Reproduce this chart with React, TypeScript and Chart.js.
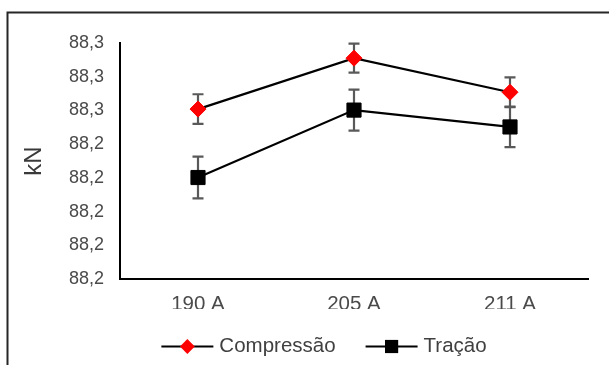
import React, { useEffect, useRef } from 'react';
import { Chart, registerables } from 'chart.js';

Chart.register(...registerables);

const categories = ['190 A', '205 A', '211 A'];
const seriesNames = ['Compressão', 'Tração'];
const compressao = [88.2504, 88.2655, 88.2554];
const compressaoErr = [0.0044, 0.0043, 0.0044];
const tracao = [88.2301, 88.2501, 88.2451];
const tracaoErr = [0.0062, 0.0061, 0.006];
const yTickLabels = ['88,2', '88,2', '88,2', '88,2', '88,2', '88,3', '88,3', '88,3'];
const yMin = 88.2;
const yMax = 88.27;
const yStep = 0.01;
const yTitle = 'kN';

const FONT = '"Liberation Sans", Arial, sans-serif';

const framePlugin = {
  id: 'frame',
  afterDraw(chart: any) {
    const ctx = chart.ctx;
    ctx.save();
    ctx.strokeStyle = '#262626';
    ctx.lineWidth = 2;
    ctx.beginPath();
    ctx.moveTo(7.5, 365);
    ctx.lineTo(7.5, 12.5);
    ctx.lineTo(609, 12.5);
    ctx.stroke();
    ctx.restore();
  },
};

const errorBarPlugin = {
  id: 'errorBars',
  beforeDatasetsDraw(chart: any) {
    const ctx = chart.ctx;
    const xs = chart.scales.x;
    const ys = chart.scales.y;
    ctx.save();
    ctx.strokeStyle = '#595959';
    ctx.lineWidth = 2.2;
    chart.data.datasets.forEach((ds: any) => {
      const errs: number[] = ds.errors || [];
      ds.data.forEach((v: number, i: number) => {
        const e = errs[i];
        if (e == null) return;
        const x = Math.round(xs.getPixelForValue(i));
        const yt = ys.getPixelForValue(v + e);
        const yb = ys.getPixelForValue(v - e);
        ctx.beginPath();
        ctx.moveTo(x, yt);
        ctx.lineTo(x, yb);
        ctx.moveTo(x - 5.5, yt);
        ctx.lineTo(x + 5.5, yt);
        ctx.moveTo(x - 5.5, yb);
        ctx.lineTo(x + 5.5, yb);
        ctx.stroke();
      });
    });
    ctx.restore();
  },
};

const legendPlugin = {
  id: 'lineLegend',
  afterDraw(chart: any) {
    const ctx = chart.ctx;
    ctx.save();
    ctx.font = '20.5px ' + FONT;
    const lineLen = 52;
    const gapText = 6;
    const gapItem = 30;
    const items = chart.data.datasets.map((ds: any) => ({ ds, w: ctx.measureText(ds.label).width }));
    const total =
      items.reduce((a: number, it: any) => a + lineLen + gapText + it.w, 0) + gapItem * (items.length - 1);
    let x = 324 - total / 2;
    const y = 346.5;
    items.forEach(({ ds, w }: any) => {
      ctx.strokeStyle = ds.borderColor;
      ctx.lineWidth = 2.2;
      ctx.beginPath();
      ctx.moveTo(x, y);
      ctx.lineTo(x + lineLen, y);
      ctx.stroke();
      const cx = x + lineLen / 2;
      ctx.fillStyle = ds.pointBackgroundColor;
      ctx.beginPath();
      if (ds.pointStyle === 'rectRot') {
        const r = 7.4;
        ctx.moveTo(cx - r, y);
        ctx.lineTo(cx, y - r);
        ctx.lineTo(cx + r, y);
        ctx.lineTo(cx, y + r);
        ctx.closePath();
      } else {
        const s = 6.6;
        ctx.rect(cx - s, y - s, 2 * s, 2 * s);
      }
      ctx.fill();
      ctx.fillStyle = '#404040';
      ctx.textBaseline = 'middle';
      ctx.textAlign = 'left';
      ctx.fillText(ds.label, x + lineLen + gapText, y);
      x += lineLen + gapText + w + gapItem;
    });
    ctx.restore();
  },
};

export default function App() {
  const ref = useRef<HTMLCanvasElement | null>(null);

  useEffect(() => {
    if (!ref.current) return;
    const chart = new Chart(ref.current, {
      type: 'line',
      data: {
        labels: categories,
        datasets: [
          {
            label: seriesNames[0],
            data: compressao,
            errors: compressaoErr,
            borderColor: '#000000',
            borderWidth: 2.2,
            pointStyle: 'rectRot',
            pointRadius: 8,
            pointBackgroundColor: '#ff0000',
            pointBorderColor: '#ff0000',
            pointBorderWidth: 1,
            tension: 0,
            fill: false,
          } as any,
          {
            label: seriesNames[1],
            data: tracao,
            errors: tracaoErr,
            borderColor: '#000000',
            borderWidth: 2.2,
            pointStyle: 'rect',
            pointRadius: 10,
            pointBackgroundColor: '#000000',
            pointBorderColor: '#000000',
            pointBorderWidth: 1,
            tension: 0,
            fill: false,
          } as any,
        ],
      },
      options: {
        responsive: false,
        animation: false,
        events: [],
        layout: { padding: { left: 16, right: 21, top: 43, bottom: 56 } },
        plugins: {
          legend: { display: false },
          tooltip: { enabled: false },
          title: { display: false },
        },
        scales: {
          x: {
            type: 'category',
            offset: true,
            grid: { display: false, drawTicks: false },
            border: { display: true, color: '#000000', width: 2 },
            ticks: {
              color: '#4a4a4a',
              font: { family: FONT, size: 20.5 },
              padding: 13,
              maxRotation: 0,
            },
            afterFit: (s: any) => {
              s.height = 30;
            },
          },
          y: {
            type: 'linear',
            min: yMin,
            max: yMax,
            grid: { display: false, drawTicks: false },
            border: { display: true, color: '#000000', width: 2 },
            ticks: {
              stepSize: yStep,
              color: '#4a4a4a',
              font: { family: FONT, size: 18 },
              padding: 16,
              callback: (_v: any, i: number) => yTickLabels[i],
            },
            title: {
              display: true,
              text: yTitle,
              color: '#3a3a3a',
              font: { family: FONT, size: 24 },
              padding: { top: 4, bottom: 4 },
            },
            afterFit: (s: any) => {
              s.width = 104;
            },
          },
        },
      } as any,
      plugins: [errorBarPlugin, legendPlugin, framePlugin],
    });
    return () => chart.destroy();
  }, []);

  return (
    <div style={{ position: 'fixed', left: 0, top: 0, width: 609, height: 365, background: '#ffffff' }}>
      <canvas ref={ref} width={609} height={365} style={{ display: 'block' }} />
    </div>
  );
}
